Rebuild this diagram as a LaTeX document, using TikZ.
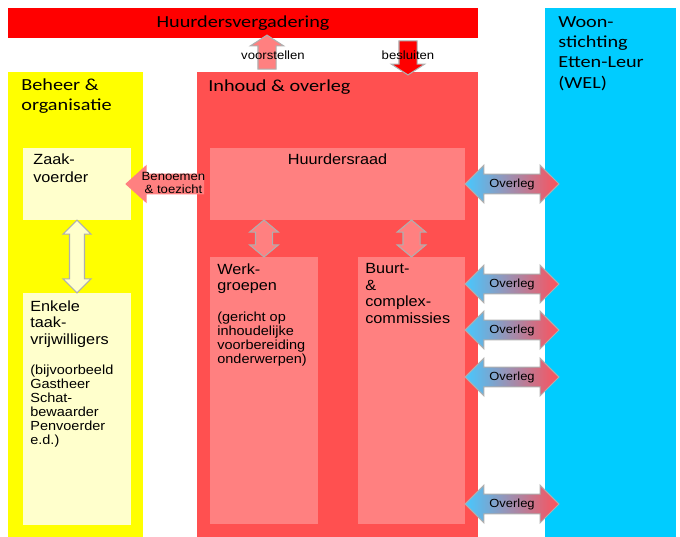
\documentclass[tikz,border=0pt]{standalone}
\usepackage{fontspec}
\setmainfont{Liberation Sans}[FakeStretch=1.1]
\newfontfamily\kopfont{Carlito}[FakeStretch=1.2]
\usetikzlibrary {arrows.meta, positioning, calc}
\usetikzlibrary {fit, shapes.arrows}

\definecolor{vergrood}{RGB}{255,0,0}
\definecolor{inhoudrood}{RGB}{255,80,80}
\definecolor{raadroze}{RGB}{255,128,128}
\definecolor{beheergeel}{RGB}{255,255,0}
\definecolor{lichtgeel}{RGB}{255,255,204}
\definecolor{welblauw}{RGB}{0,204,255}
\definecolor{randgrijs}{RGB}{175,175,175}
\definecolor{overlegblauw}{RGB}{70,200,255}
\definecolor{overlegrood}{RGB}{255,80,90}

\tikzset{
    >={Latex},
    vlak/.style={inner sep=0pt, outer sep=0pt},
    kop/.style={font=\kopfont\fontsize{9.6}{11}\selectfont, align=left, inner sep=0pt, anchor=north west},
    tekst/.style={font=\fontsize{8.4}{9.5}\selectfont, align=left, inner sep=0pt, anchor=north west},
    klein/.style={font=\fontsize{7.5}{7.9}\selectfont, align=left, inner sep=0pt, anchor=north west},
    pijltekst/.style={font=\fontsize{6.8}{7.7}\selectfont, align=center, inner sep=0pt},
    overleg/.style={double arrow, draw=randgrijs, line width=0.6pt,
        left color=overlegblauw, right color=overlegrood,
        minimum height=1.88cm, double arrow head extend=5.1pt, double arrow tip angle=90,
        inner xsep=2pt, inner ysep=2.2pt, font=\fontsize{6.7}{7}\selectfont},
    vpijl/.style={double arrow, shape border rotate=90, draw=randgrijs, line width=0.6pt},
    oppijl/.style={single arrow, draw=randgrijs, line width=0.6pt,
        inner sep=0.17cm, single arrow head extend=0.15cm, single arrow tip angle=114,
        minimum height=0.68cm}
}

\begin{document}
\begin{tikzpicture}[x=0.02cm, y=-0.02cm]
\useasboundingbox (0,0) rectangle (680,537);

% top bar
\node[vlak, fill=vergrood, fit={(8,8) (478,38)}] (verg) {};
\node[kop, anchor=center] (vergtxt) at (verg.center) {Huurdersvergadering};

% three columns
\node[vlak, fill=beheergeel, fit={(8,72) (143,537)}] (beheer) {};
\node[vlak, fill=inhoudrood, fit={(197,72) (478,537)}] (inhoud) {};
\node[vlak, fill=welblauw, fit={(545,8) (676,537)}] (wel) {};
\node[kop, below right=0.136cm and 0.26cm of beheer.north west] (beheertxt) {Beheer \&\\organisatie};
\node[kop, below right=0.14cm and 0.22cm of inhoud.north west] (inhoudtxt) {Inhoud \& overleg};
\node[kop, font=\kopfont\fontsize{9.6}{11.6}\selectfont, below right=0.16cm and 0.26cm of wel.north west] (weltxt) {Woon-\\stichting\\Etten-Leur\\(WEL)};

% left column
\node[vlak, fill=lichtgeel, fit={(23,148) (131,220)}] (zaak) {};
\node[vlak, fill=lichtgeel, fit={(23,293) (131,525)}] (enkele) {};
\node[tekst, font=\fontsize{8.4}{10.6}\selectfont, below right=0.1cm and 0.2cm of zaak.north west] (zaaktxt) {Zaak-\\voerder};
\node[tekst, below right=0.14cm and 0.14cm of enkele.north west] (enkeletxt) {Enkele\\taak-\\vrijwilligers};
\node[klein, below right=1.436cm and 0.14cm of enkele.north west] (enkelevb) {(bijvoorbeeld\\Gastheer\\Schat-\\bewaarder\\Penvoerder\\e.d.)};

% middle column
\node[vlak, fill=raadroze, fit={(210,148) (465,220)}] (raad) {};
\node[vlak, fill=raadroze, fit={(210,257) (318,524)}] (werk) {};
\node[vlak, fill=raadroze, fit={(358,257) (465,524)}] (buurt) {};
\node[tekst, anchor=north, below=0.1cm of raad.north] (raadtxt) {Huurdersraad};
\node[tekst, below right=0.12cm and 0.14cm of werk.north west] (werktxt) {Werk-\\groepen};
\node[klein, below right=1.1cm and 0.14cm of werk.north west] (werkvb) {(gericht op\\inhoudelijke\\voorbereiding\\onderwerpen)};
\node[tekst, below right=0.12cm and 0.14cm of buurt.north west] (buurttxt) {Buurt-\\\&\\complex-\\commissies};

% arrows to and from the meeting
\node[oppijl, fill=raadroze, shape border rotate=90] (voorst)
    at ($(inhoud.north west)!0.5!(verg.south -| inhoud.north west) + (70,0)$) {};
\node[oppijl, fill=vergrood, shape border rotate=270] (besl)
    at ($(inhoud.north west)!0.5!(verg.south -| inhoud.north west) + (211,0)$) {};
\node[pijltekst] (voorsttxt) at ($(voorst.center) + (6,0)$) {voorstellen};
\node[pijltekst] (besltxt) at ($(besl.center) + (0,0)$) {besluiten};

% benoemen
\node[single arrow, fill=raadroze, shape border rotate=180, inner sep=0.2cm,
    single arrow head extend=0.18cm, single arrow tip angle=84, minimum height=1.58cm]
    (benoem) at ($(zaak.east)!0.5!(raad.west)$) {};
\node[pijltekst] (benoemtxt) at ($(benoem.center) + (3,-1)$) {Benoemen\\\& toezicht};

% vertical double arrows
\node[vpijl, fill=lichtgeel, inner sep=0.14cm, double arrow head extend=0.13cm,
    double arrow tip angle=90, minimum height=1.46cm]
    (zaakpijl) at ($(zaak.south)!0.5!(enkele.north)$) {};
\node[vpijl, fill=raadroze, inner sep=0.16cm, double arrow head extend=0.12cm,
    double arrow tip angle=100, minimum height=0.74cm]
    (werkpijl) at ($(werk.north)!0.5!(werk.north |- raad.south)$) {};
\node[vpijl, fill=raadroze, inner sep=0.16cm, double arrow head extend=0.12cm,
    double arrow tip angle=100, minimum height=0.74cm]
    (buurtpijl) at ($(buurt.north)!0.5!(buurt.north |- raad.south)$) {};

% overleg with WEL
\node[overleg] (ovraad) at ($(raad.east) + (47,0)$) {Overleg};
\node[overleg] (ovbuurt1) at ($(buurt.north east) + (47,27)$) {Overleg};
\node[overleg] (ovbuurt2) at ($(buurt.north east) + (47,73)$) {Overleg};
\node[overleg] (ovbuurt3) at ($(buurt.north east) + (47,120)$) {Overleg};
\node[overleg] (ovbuurt4) at ($(buurt.north east) + (47,247)$) {Overleg};
\end{tikzpicture}
\end{document}
